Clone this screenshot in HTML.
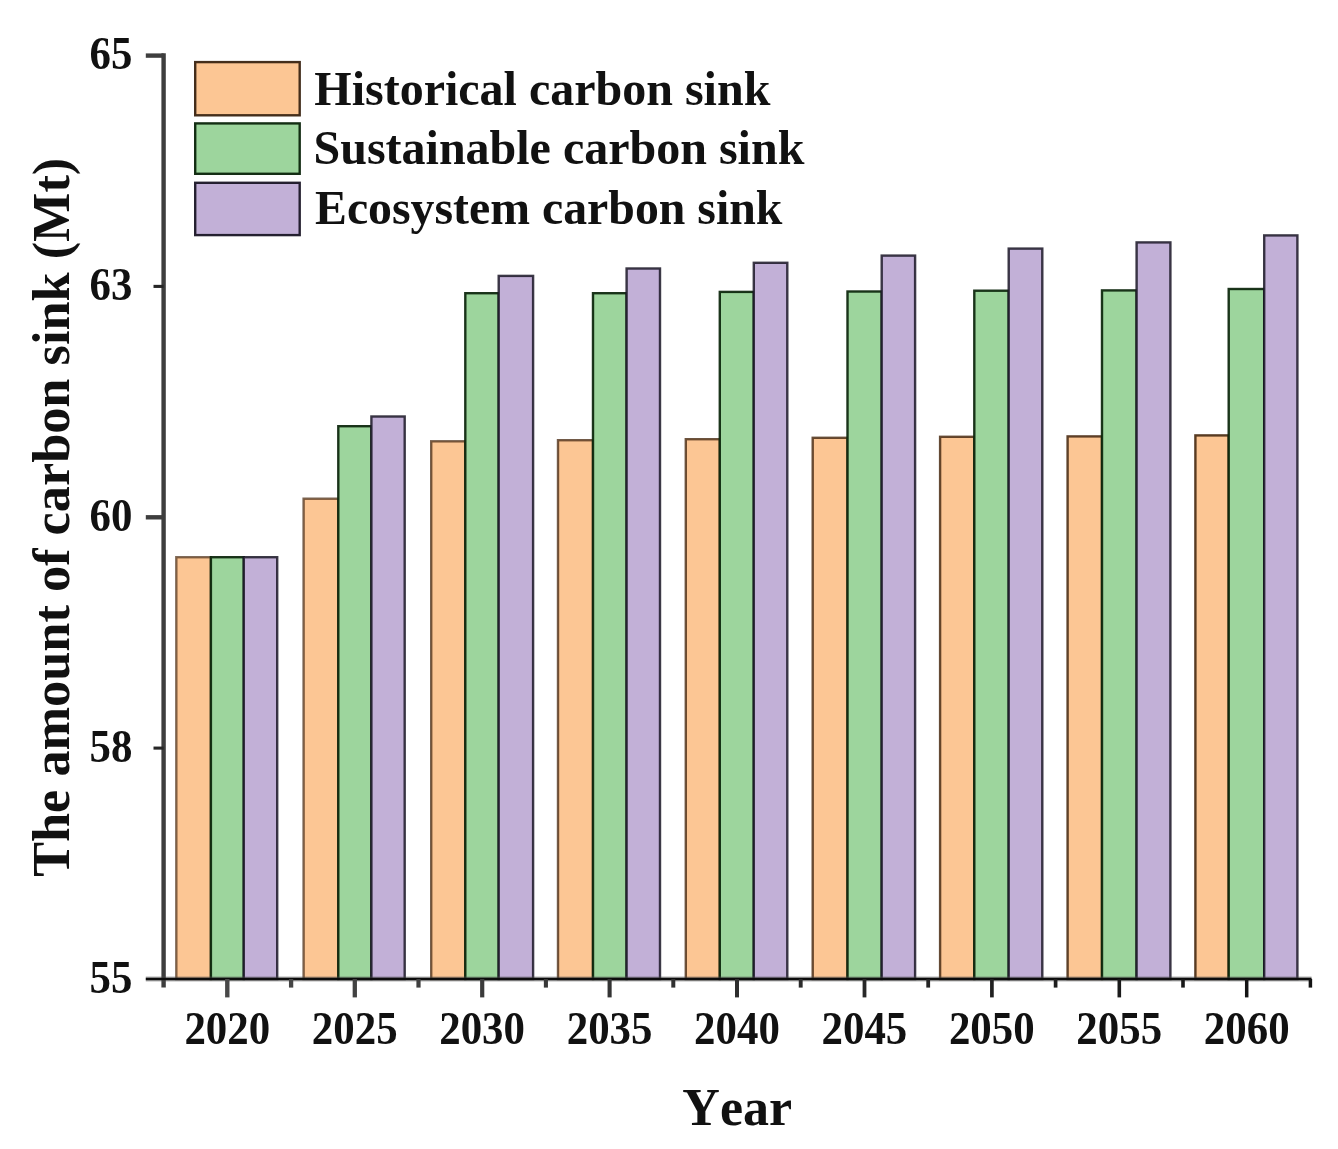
<!DOCTYPE html>
<html><head><meta charset="utf-8"><title>Carbon sink</title>
<style>
html,body{margin:0;padding:0;background:#fff;}
body{width:1338px;height:1149px;overflow:hidden;}
svg{display:block;filter:blur(0.55px);}
text{font-family:"Liberation Serif",serif;font-weight:bold;fill:#111;font-kerning:none;}
</style></head><body>
<svg width="1338" height="1149" viewBox="0 0 1338 1149">
<rect x="0" y="0" width="1338" height="1149" fill="#ffffff"/>
<g stroke-width="2.4" stroke-linejoin="miter">
<rect x="176.3" y="557.2" width="34.6" height="421.8" fill="#FCC694" stroke="#4a2c14" stroke-opacity="0.70"/>
<rect x="210.9" y="557.2" width="32.9" height="421.8" fill="#9DD59D" stroke="#0a240a" stroke-opacity="0.92"/>
<rect x="243.8" y="557.2" width="33.4" height="421.8" fill="#C2B0D7" stroke="#1a1626" stroke-opacity="0.85"/>
<rect x="303.6" y="498.7" width="34.7" height="480.3" fill="#FCC694" stroke="#4a2c14" stroke-opacity="0.73"/>
<rect x="338.3" y="426.2" width="33.1" height="552.8" fill="#9DD59D" stroke="#0a240a" stroke-opacity="0.92"/>
<rect x="371.4" y="416.5" width="33.3" height="562.5" fill="#C2B0D7" stroke="#1a1626" stroke-opacity="0.85"/>
<rect x="431.2" y="441.3" width="34.1" height="537.7" fill="#FCC694" stroke="#4a2c14" stroke-opacity="0.76"/>
<rect x="465.3" y="293.2" width="33.4" height="685.8" fill="#9DD59D" stroke="#0a240a" stroke-opacity="0.92"/>
<rect x="498.7" y="275.9" width="34.4" height="703.1" fill="#C2B0D7" stroke="#1a1626" stroke-opacity="0.85"/>
<rect x="558.0" y="440.2" width="35.0" height="538.8" fill="#FCC694" stroke="#4a2c14" stroke-opacity="0.78"/>
<rect x="593.0" y="293.2" width="33.6" height="685.8" fill="#9DD59D" stroke="#0a240a" stroke-opacity="0.92"/>
<rect x="626.6" y="268.5" width="33.4" height="710.5" fill="#C2B0D7" stroke="#1a1626" stroke-opacity="0.85"/>
<rect x="685.8" y="439.2" width="34.0" height="539.8" fill="#FCC694" stroke="#4a2c14" stroke-opacity="0.81"/>
<rect x="719.8" y="291.9" width="34.0" height="687.1" fill="#9DD59D" stroke="#0a240a" stroke-opacity="0.92"/>
<rect x="753.8" y="262.8" width="33.5" height="716.2" fill="#C2B0D7" stroke="#1a1626" stroke-opacity="0.85"/>
<rect x="812.7" y="437.8" width="34.8" height="541.2" fill="#FCC694" stroke="#4a2c14" stroke-opacity="0.84"/>
<rect x="847.5" y="291.5" width="34.2" height="687.5" fill="#9DD59D" stroke="#0a240a" stroke-opacity="0.92"/>
<rect x="881.7" y="255.6" width="33.4" height="723.4" fill="#C2B0D7" stroke="#1a1626" stroke-opacity="0.85"/>
<rect x="940.1" y="436.8" width="34.2" height="542.2" fill="#FCC694" stroke="#4a2c14" stroke-opacity="0.86"/>
<rect x="974.3" y="290.7" width="34.4" height="688.3" fill="#9DD59D" stroke="#0a240a" stroke-opacity="0.92"/>
<rect x="1008.7" y="248.6" width="33.6" height="730.4" fill="#C2B0D7" stroke="#1a1626" stroke-opacity="0.85"/>
<rect x="1067.6" y="436.4" width="34.4" height="542.6" fill="#FCC694" stroke="#4a2c14" stroke-opacity="0.89"/>
<rect x="1102.0" y="290.4" width="34.6" height="688.6" fill="#9DD59D" stroke="#0a240a" stroke-opacity="0.92"/>
<rect x="1136.6" y="242.4" width="33.8" height="736.6" fill="#C2B0D7" stroke="#1a1626" stroke-opacity="0.85"/>
<rect x="1195.4" y="435.4" width="33.3" height="543.6" fill="#FCC694" stroke="#4a2c14" stroke-opacity="0.92"/>
<rect x="1228.7" y="289.0" width="35.5" height="690.0" fill="#9DD59D" stroke="#0a240a" stroke-opacity="0.92"/>
<rect x="1264.2" y="235.4" width="33.2" height="743.6" fill="#C2B0D7" stroke="#1a1626" stroke-opacity="0.85"/>
</g>
<g fill="none">
<line x1="163.6" y1="53.2" x2="163.6" y2="987.6" stroke="#3e3e3e" stroke-width="4.4"/>
<line x1="145.8" y1="979" x2="1311.5" y2="979" stroke="#555" stroke-opacity="0.45" stroke-width="5"/>
<line x1="145.8" y1="979.1" x2="1311.5" y2="979.1" stroke="#0c0c0c" stroke-width="2.5"/>
<line x1="145.8" y1="55.6" x2="163.6" y2="55.6" stroke="#3e3e3e" stroke-width="4.4"/>
<line x1="153.5" y1="286.4" x2="163.6" y2="286.4" stroke="#262626" stroke-width="3.1"/>
<line x1="145.8" y1="517.3" x2="163.6" y2="517.3" stroke="#3e3e3e" stroke-width="4.4"/>
<line x1="153.5" y1="748.1" x2="163.6" y2="748.1" stroke="#262626" stroke-width="3.1"/>
<line x1="227.3" y1="979" x2="227.3" y2="997.4" stroke="#484848" stroke-width="4.4"/>
<line x1="291.1" y1="979" x2="291.1" y2="987.6" stroke="#454545" stroke-width="4.3"/>
<line x1="354.8" y1="979" x2="354.8" y2="997.4" stroke="#424242" stroke-width="4.3"/>
<line x1="418.5" y1="979" x2="418.5" y2="987.6" stroke="#3e3e3e" stroke-width="4.2"/>
<line x1="482.2" y1="979" x2="482.2" y2="997.4" stroke="#3b3b3b" stroke-width="4.2"/>
<line x1="545.9" y1="979" x2="545.9" y2="987.6" stroke="#383838" stroke-width="4.1"/>
<line x1="609.6" y1="979" x2="609.6" y2="997.4" stroke="#343434" stroke-width="4.1"/>
<line x1="673.3" y1="979" x2="673.3" y2="987.6" stroke="#313131" stroke-width="4.0"/>
<line x1="737.0" y1="979" x2="737.0" y2="997.4" stroke="#2e2e2e" stroke-width="4.0"/>
<line x1="800.7" y1="979" x2="800.7" y2="987.6" stroke="#2b2b2b" stroke-width="3.9"/>
<line x1="864.5" y1="979" x2="864.5" y2="997.4" stroke="#282828" stroke-width="3.8"/>
<line x1="928.2" y1="979" x2="928.2" y2="987.6" stroke="#242424" stroke-width="3.8"/>
<line x1="991.9" y1="979" x2="991.9" y2="997.4" stroke="#212121" stroke-width="3.7"/>
<line x1="1055.6" y1="979" x2="1055.6" y2="987.6" stroke="#1e1e1e" stroke-width="3.7"/>
<line x1="1119.3" y1="979" x2="1119.3" y2="997.4" stroke="#1a1a1a" stroke-width="3.6"/>
<line x1="1183.0" y1="979" x2="1183.0" y2="987.6" stroke="#171717" stroke-width="3.6"/>
<line x1="1246.7" y1="979" x2="1246.7" y2="997.4" stroke="#141414" stroke-width="3.5"/>
<line x1="1310.4" y1="979" x2="1310.4" y2="987.6" stroke="#141414" stroke-width="3.5"/>
</g>
<text transform="translate(132.4,69.4) scale(0.975,1.040)" font-size="44" text-anchor="end">65</text>
<text transform="translate(132.4,300.2) scale(0.975,1.040)" font-size="44" text-anchor="end">63</text>
<text transform="translate(132.4,531.1) scale(0.975,1.040)" font-size="44" text-anchor="end">60</text>
<text transform="translate(132.4,761.9) scale(0.975,1.040)" font-size="44" text-anchor="end">58</text>
<text transform="translate(132.4,992.8) scale(0.975,1.040)" font-size="44" text-anchor="end">55</text>
<text transform="translate(227.3,1043.8) scale(0.975,1.040)" font-size="44" text-anchor="middle">2020</text>
<text transform="translate(354.7,1043.8) scale(0.975,1.040)" font-size="44" text-anchor="middle">2025</text>
<text transform="translate(482.1,1043.8) scale(0.975,1.040)" font-size="44" text-anchor="middle">2030</text>
<text transform="translate(609.6,1043.8) scale(0.975,1.040)" font-size="44" text-anchor="middle">2035</text>
<text transform="translate(737.0,1043.8) scale(0.975,1.040)" font-size="44" text-anchor="middle">2040</text>
<text transform="translate(864.4,1043.8) scale(0.975,1.040)" font-size="44" text-anchor="middle">2045</text>
<text transform="translate(991.8,1043.8) scale(0.975,1.040)" font-size="44" text-anchor="middle">2050</text>
<text transform="translate(1119.2,1043.8) scale(0.975,1.040)" font-size="44" text-anchor="middle">2055</text>
<text transform="translate(1246.7,1043.8) scale(0.975,1.040)" font-size="44" text-anchor="middle">2060</text>
<text x="737.2" y="1125.4" font-size="52" text-anchor="middle">Year</text>
<text transform="translate(68.5,517.3) rotate(-90)" font-size="52.3" text-anchor="middle">The amount of carbon sink (Mt)</text>
<rect x="195.2" y="62.1" width="104.5" height="53.2" fill="#FCC694" stroke="#3a2412" stroke-opacity="0.95" stroke-width="2.4"/>
<text x="314.3" y="104.8" font-size="48.0">Historical carbon sink</text>
<rect x="195.2" y="123.4" width="104.5" height="50.4" fill="#9DD59D" stroke="#0a240a" stroke-opacity="0.95" stroke-width="2.4"/>
<text x="313.5" y="164.3" font-size="48.0">Sustainable carbon sink</text>
<rect x="195.2" y="182.8" width="104.5" height="52.3" fill="#C2B0D7" stroke="#1a1626" stroke-opacity="0.95" stroke-width="2.4"/>
<text x="315.0" y="223.9" font-size="47.8">Ecosystem carbon sink</text>
</svg>
</body></html>
